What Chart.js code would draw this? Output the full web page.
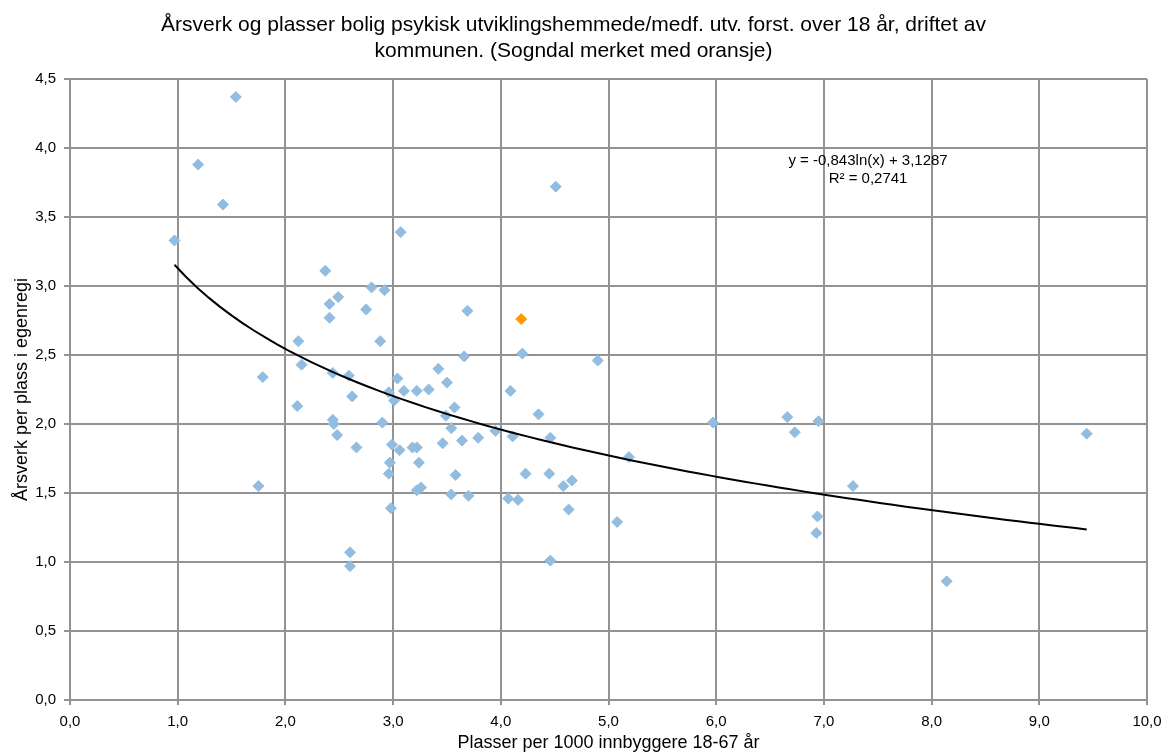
<!doctype html>
<html lang="no">
<head>
  <meta charset="utf-8">
  <title>Årsverk og plasser bolig</title>
  <script src="https://cdn.jsdelivr.net/npm/chart.js"></script>
  <style>
    html, body { margin: 0; padding: 0; background: #fff; }
    #wrap { width: 1165px; height: 754px; }
  </style>
</head>
<body>
  <div id="wrap"><canvas id="canvas_scatter"></canvas></div>

  <script type="text/javascript">

    // plasser per 1000 innbyggere 18-67 år (x) and årsverk per plass (y)
    const plasser = [
      1.54, 1.19, 1.42, 0.97, 3.07, 4.51, 2.37, 2.80, 2.92, 2.49,
      2.41, 2.75, 2.41, 3.69, 2.12, 2.88, 3.66, 4.20, 4.90, 2.15,
      1.79, 2.44, 2.59, 3.42, 3.04, 3.50, 2.62, 2.96, 3.10, 3.22,
      3.33, 4.09, 3.01, 2.11, 3.57, 3.49, 4.35, 2.44, 2.45, 2.90,
      3.54, 3.95, 2.48, 4.11, 4.46, 2.66, 2.99, 3.06, 3.18, 3.22,
      3.46, 3.64, 3.79, 5.97, 5.19, 1.75, 2.97, 2.96, 3.24, 3.22,
      3.26, 3.58, 3.54, 3.70, 4.07, 4.16, 4.23, 4.45, 4.66, 4.58,
      4.63, 2.98, 5.08, 2.60, 2.60, 4.46, 6.66, 6.73, 6.95, 9.44,
      7.27, 6.94, 6.93, 8.14
    ];
    const aarsverk = [
      4.37, 3.88, 3.59, 3.33, 3.39, 3.72, 3.11, 2.99, 2.97, 2.92,
      2.87, 2.83, 2.77, 2.82, 2.60, 2.60, 2.49, 2.51, 2.46, 2.43,
      2.34, 2.37, 2.35, 2.40, 2.33, 2.30, 2.20, 2.23, 2.24, 2.24,
      2.25, 2.24, 2.17, 2.13, 2.12, 2.06, 2.07, 2.03, 2.00, 2.01,
      1.97, 1.95, 1.92, 1.91, 1.90, 1.83, 1.85, 1.81, 1.83, 1.83,
      1.86, 1.88, 1.90, 2.01, 1.76, 1.55, 1.72, 1.64, 1.72, 1.52,
      1.54, 1.63, 1.49, 1.48, 1.46, 1.45, 1.64, 1.64, 1.59, 1.55,
      1.38, 1.39, 1.29, 1.07, 0.97, 1.01, 2.05, 1.94, 2.02, 1.93,
      1.55, 1.33, 1.21, 0.86
    ];

    // Sogndal (orange)
    const sogndal_x = [4.19];
    const sogndal_y = [2.76];

    // logarithmic trendline as printed on the chart
    const trend_a = -0.843;
    const trend_b = 3.1287;
    const trend_text = ['y = -0,843ln(x) + 3,1287', 'R² = 0,2741'];

    const x_ticks = [0, 1, 2, 3, 4, 5, 6, 7, 8, 9, 10];
    const y_ticks = [0, 0.5, 1, 1.5, 2, 2.5, 3, 3.5, 4, 4.5];

    const chart_title = ['Årsverk og plasser bolig psykisk utviklingshemmede/medf. utv. forst. over 18 år, driftet av', 'kommunen. (Sogndal merket med oransje)'];
    const x_title = 'Plasser per 1000 innbyggere 18-67 år';
    const y_title = 'Årsverk per plass i egenregi';

    const all_x = plasser.concat(sogndal_x);
    const x_min = Math.min(...all_x);
    const x_max = Math.max(...all_x);

    const trend_points = [];
    for (let i = 0; i <= 80; i++) {
      const x = x_min + (x_max - x_min) * i / 80;
      trend_points.push({ x: x, y: trend_a * Math.log(x) + trend_b });
    }

    const fmt = (v) => Number(v).toFixed(1).replace('.', ',');
    const grid_color = '#939393';
    const font_family = '"Liberation Sans", Arial, sans-serif';

    const equation_plugin = {
      id: 'equation_plugin',
      afterDatasetsDraw(chart) {
        const ctx = chart.ctx;
        const px = chart.scales.x.getPixelForValue(7.41);
        const py = chart.scales.y.getPixelForValue(3.915);
        ctx.save();
        ctx.font = '15px ' + font_family;
        ctx.fillStyle = '#000';
        ctx.textAlign = 'center';
        ctx.textBaseline = 'middle';
        ctx.fillText(trend_text[0], px, py + 1);
        ctx.fillText(trend_text[1], px, py + 19);
        ctx.restore();
      }
    };

    Chart.defaults.font.family = font_family;
    Chart.defaults.color = '#000';

    new Chart(document.getElementById('canvas_scatter'), {
      type: 'scatter',
      data: {
        datasets: [
          {
            label: 'Trend',
            type: 'line',
            data: trend_points,
            borderColor: '#000',
            borderWidth: 2,
            pointRadius: 0,
            tension: 0,
            fill: false,
            order: 0
          },
          {
            label: 'Sogndal',
            data: sogndal_x.map((x, i) => ({ x: x, y: sogndal_y[i] })),
            pointStyle: 'rectRot',
            pointRadius: 5.5,
            backgroundColor: '#ff9a00',
            borderColor: '#ff9a00',
            borderWidth: 1,
            order: 1
          },
          {
            label: 'Kommuner',
            data: plasser.map((x, i) => ({ x: x, y: aarsverk[i] })),
            pointStyle: 'rectRot',
            pointRadius: 5.5,
            backgroundColor: '#93bde0',
            borderColor: '#93bde0',
            borderWidth: 1,
            order: 2
          }
        ]
      },
      options: {
        responsive: true,
        maintainAspectRatio: false,
        animation: false,
        layout: { padding: { top: 0, right: 18, bottom: 0, left: 0 } },
        plugins: {
          legend: { display: false },
          tooltip: { enabled: false },
          title: {
            display: true,
            text: chart_title,
            color: '#000',
            font: { size: 21, weight: 'normal', lineHeight: 1.25 },
            padding: { top: 12, bottom: 14.5 }
          }
        },
        scales: {
          x: {
            type: 'linear',
            min: 0, max: 10,
            afterBuildTicks: (axis) => { axis.ticks = x_ticks.map(v => ({ value: v })); },
            afterFit: (axis) => { axis.height = 54; axis.paddingRight = 0; },
            ticks: { callback: (v) => fmt(v), font: { size: 15 }, padding: 8, maxRotation: 0 },
            grid: { color: grid_color, lineWidth: 2, tickLength: 5 },
            border: { color: grid_color, width: 2 },
            title: { display: true, text: x_title, font: { size: 18 }, padding: { top: 0, bottom: 0 } }
          },
          y: {
            type: 'linear',
            min: 0, max: 4.5,
            afterBuildTicks: (axis) => { axis.ticks = y_ticks.map(v => ({ value: v })); },
            afterFit: (axis) => { axis.width = 70; },
            ticks: { callback: (v) => fmt(v), font: { size: 15 }, padding: 8 },
            grid: { color: grid_color, lineWidth: 2, tickLength: 6 },
            border: { color: grid_color, width: 2 },
            title: { display: true, text: y_title, font: { size: 18 }, padding: { top: 11, bottom: 0 } }
          }
        }
      },
      plugins: [equation_plugin]
    });

  </script>
</body>
</html>
